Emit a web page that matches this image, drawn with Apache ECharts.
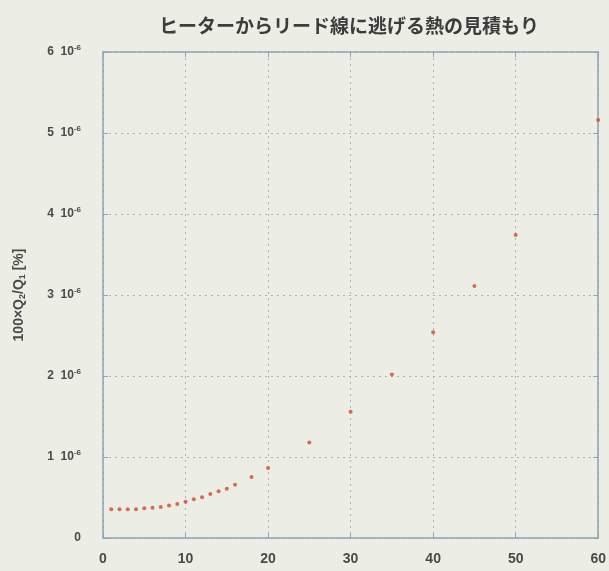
<!DOCTYPE html>
<html>
<head>
<meta charset="utf-8">
<script src="https://cdn.jsdelivr.net/npm/echarts@6/dist/echarts.min.js"></script>
<style>
  html, body { margin: 0; padding: 0; background: #eceee6; }
  #chart { width: 609px; height: 571px; }
</style>
</head>
<body>
<div id="chart"></div>
<script>
/* ---------- data (y in units of 10^-6) ---------- */
var xValues = [1, 2, 3, 4, 5, 6, 7, 8, 9, 10, 11, 12, 13, 14, 15, 16, 18, 20, 25, 30, 35, 40, 45, 50, 60];
var yValues = [0.354, 0.354, 0.354, 0.356, 0.366, 0.374, 0.383, 0.40, 0.42, 0.448, 0.477, 0.502, 0.543, 0.576, 0.609, 0.658, 0.753, 0.864, 1.18, 1.56, 2.02, 2.54, 3.11, 3.74, 5.16];
var xTicks = [0, 10, 20, 30, 40, 50, 60];
var yTicks = [0, 1, 2, 3, 4, 5, 6];

var points = xValues.map(function (x, i) { return [x, yValues[i]]; });

var chart = echarts.init(document.getElementById('chart'));

var axisColor = '#8fa2b6';
var textColor = '#4a4a4a';
var font = '"Liberation Sans", "Noto Sans CJK JP", sans-serif';

var option = {
    backgroundColor: '#eceee6',
    animation: false,
    title: {
        text: 'ヒーターからリード線に逃げる熱の見積もり',
        left: 344,
        top: 11,
        textAlign: 'center',
        textStyle: {
            fontFamily: '"Noto Sans CJK JP", sans-serif',
            fontSize: 19,
            fontWeight: 'bold',
            color: '#3c3c3c'
        }
    },
    grid: {
        left: 103,
        right: 9,
        top: 52,
        bottom: 33
    },
    xAxis: [{
        type: 'value',
        min: xTicks[0],
        max: xTicks[xTicks.length - 1],
        interval: 10,
        axisLine: { lineStyle: { color: axisColor, width: 1.5 } },
        axisTick: { inside: true, length: 5, lineStyle: { color: axisColor } },
        axisLabel: {
            margin: 14,
            color: textColor,
            fontFamily: font,
            fontSize: 14,
            fontWeight: 'bold'
        },
        splitLine: { lineStyle: { color: '#a9b4b8', type: [2, 4] } }
    }, {
        type: 'value',
        position: 'top',
        min: xTicks[0],
        max: xTicks[xTicks.length - 1],
        interval: 10,
        axisLine: { show: true, onZero: false, lineStyle: { color: axisColor, width: 1.5 } },
        axisTick: { inside: true, length: 5, lineStyle: { color: axisColor } },
        axisLabel: { show: false },
        splitLine: { show: false }
    }],
    yAxis: [{
        type: 'value',
        min: yTicks[0],
        max: yTicks[yTicks.length - 1],
        interval: 1,
        name: '100×Q{s|2}/Q{s|1} [%]',
        nameLocation: 'middle',
        nameGap: 76,
        nameRotate: 90,
        nameTextStyle: {
            color: textColor,
            fontFamily: font,
            fontSize: 14,
            fontWeight: 'bold',
            rich: {
                s: { fontSize: 9, verticalAlign: 'bottom', fontWeight: 'bold', color: textColor, padding: [7, 0, 0, 0] }
            }
        },
        axisLine: { show: true, lineStyle: { color: axisColor, width: 1.5 } },
        axisTick: { inside: true, length: 5, lineStyle: { color: axisColor } },
        axisLabel: {
            margin: 22,
            color: textColor,
            fontFamily: font,
            fontSize: 12,
            fontWeight: 'bold',
            formatter: function (v) {
                var n = Math.round(v);
                if (n === 0) return '{n|0}';
                return '{n|' + n + '  10}{e|-6}';
            },
            rich: {
                n: { fontSize: 12, fontWeight: 'bold', color: textColor, fontFamily: font },
                e: { fontSize: 8, fontWeight: 'bold', color: textColor, fontFamily: font, verticalAlign: 'top', padding: [0, 0, 8, 0] }
            }
        },
        splitLine: { lineStyle: { color: '#a9b4b8', type: [2, 4] } }
    }, {
        type: 'value',
        position: 'right',
        min: yTicks[0],
        max: yTicks[yTicks.length - 1],
        interval: 1,
        axisLine: { show: true, onZero: false, lineStyle: { color: axisColor, width: 1.5 } },
        axisTick: { show: true, inside: true, length: 5, lineStyle: { color: axisColor } },
        axisLabel: { show: false },
        splitLine: { show: false }
    }],
    series: [{
        type: 'scatter',
        data: points,
        symbol: 'circle',
        symbolSize: 4,
        itemStyle: { color: '#cf4a2e' }
    }]
};

chart.setOption(option);
</script>
</body>
</html>
